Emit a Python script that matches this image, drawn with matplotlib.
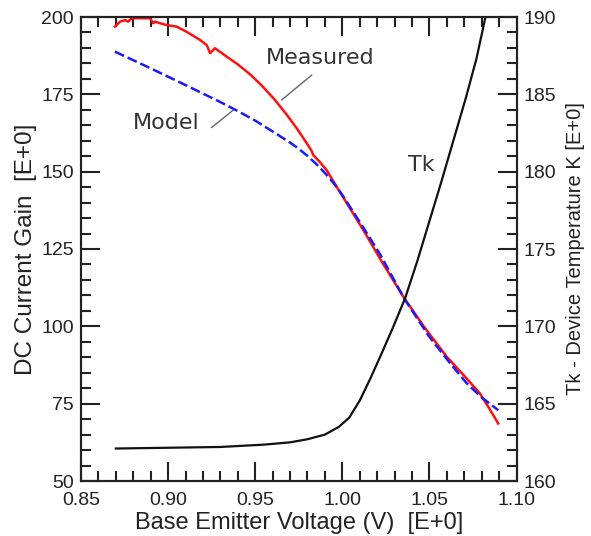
import matplotlib
matplotlib.use("Agg")
import matplotlib.pyplot as plt
from matplotlib.ticker import MultipleLocator, FormatStrFormatter

# Measured DC current gain vs base-emitter voltage
vbe_measured = [0.8695, 0.8724, 0.8753, 0.8770, 0.8791, 0.8858, 0.8896, 0.8915,
                0.8925, 0.8953, 0.8992, 0.9049, 0.9107, 0.9183, 0.9222, 0.9241,
                0.9269, 0.9336, 0.9400, 0.9470, 0.9540, 0.9610, 0.9680, 0.9740,
                0.9790, 0.9824, 0.9833, 0.9870, 0.9910, 0.9968, 1.0040, 1.0121,
                1.0230, 1.0350, 1.0470, 1.0599, 1.0700, 1.0790, 1.0840, 1.0895]
gain_measured = [196.9, 198.5, 199.0, 198.5, 199.6, 199.6, 199.6, 198.0,
                 198.5, 198.0, 197.4, 196.9, 195.2, 192.6, 190.9, 188.3,
                 189.9, 187.2, 184.7, 181.5, 177.7, 173.4, 168.5, 163.9,
                 159.7, 156.7, 155.4, 153.2, 150.5, 145.1, 138.5, 131.1,
                 120.6, 109.6, 99.8, 90.2, 84.0, 78.3, 73.8, 68.6]

# Model DC current gain
vbe_model = [0.8695, 0.8900, 0.9100, 0.9300, 0.9400, 0.9500, 0.9600, 0.9700,
             0.9750, 0.9800, 0.9850, 0.9900, 0.9950, 1.0000, 1.0120, 1.0220,
             1.0355, 1.0500, 1.0620, 1.0714, 1.0800, 1.0895]
gain_model = [188.8, 183.4, 178.0, 172.5, 169.6, 166.5, 163.0, 159.4,
              157.4, 155.1, 152.5, 149.6, 146.3, 142.5, 132.0, 123.0,
              109.0, 96.6, 88.0, 81.6, 77.0, 72.9]

# Device temperature Tk (right axis)
vbe_temp = [0.8700, 0.9300, 0.9550, 0.9700, 0.9800, 0.9900, 0.9980, 1.0040,
            1.0100, 1.0160, 1.0220, 1.0290, 1.0360, 1.0430, 1.0500, 1.0570,
            1.0640, 1.0710, 1.0770, 1.0820]
temp_k = [162.1, 162.2, 162.35, 162.5, 162.7, 163.0, 163.5, 164.1,
          165.2, 166.6, 168.1, 169.9, 171.8, 174.2, 176.8, 179.4,
          182.1, 184.8, 187.3, 189.9]

axis_font = ["Liberation Sans", "DejaVu Sans"]
note_font = ["DejaVu Sans"]
ink = "#222222"

fig = plt.figure(figsize=(5.91, 5.36), dpi=100)
ax = fig.add_axes([81 / 591, 55 / 536, 435.5 / 591, 464 / 536])
ax2 = ax.twinx()

ax.plot(vbe_measured, gain_measured, color="#ff1010", lw=1.8, zorder=2)
ax.plot(vbe_model, gain_model, color="#1a1aff", lw=1.8, ls=(0, (4, 1.6)), zorder=3)
ax2.plot(vbe_temp, temp_k, color="#111111", lw=1.6)

ax.set_xlim(0.85, 1.10)
ax.set_ylim(50, 200)
ax2.set_ylim(160, 190)

ax.xaxis.set_major_locator(MultipleLocator(0.05))
ax.xaxis.set_minor_locator(MultipleLocator(0.01))
ax.xaxis.set_major_formatter(FormatStrFormatter("%.2f"))
ax.yaxis.set_major_locator(MultipleLocator(25))
ax.yaxis.set_minor_locator(MultipleLocator(5))
ax2.yaxis.set_major_locator(MultipleLocator(5))
ax2.yaxis.set_minor_locator(MultipleLocator(1))

for a in (ax, ax2):
    for s in a.spines.values():
        s.set_linewidth(1.5)
        s.set_color(ink)

ax.tick_params(axis="x", which="both", direction="in", top=True, bottom=True,
               color=ink, width=1.5, labelsize=14, labelcolor=ink, pad=8)
ax.tick_params(axis="y", which="both", direction="in", left=True, right=False,
               color=ink, width=1.5, labelsize=14, labelcolor=ink, pad=5)
ax2.tick_params(axis="y", which="both", direction="in", right=True, left=False,
                color=ink, width=1.5, labelsize=14, labelcolor=ink, pad=5)
for a in (ax, ax2):
    a.tick_params(which="major", length=14)
    a.tick_params(which="minor", length=7)

for lab in ax.get_xticklabels() + ax.get_yticklabels() + ax2.get_yticklabels():
    lab.set_family(axis_font)

ax.set_xlabel("Base Emitter Voltage (V)  [E+0]", fontsize=17, family=axis_font,
              color=ink, labelpad=2)
ax.set_ylabel("DC Current Gain  [E+0]", fontsize=17.5, family=axis_font,
              color=ink, labelpad=3)
ax2.set_ylabel("Tk - Device Temperature K [E+0]", fontsize=14.5, family=axis_font,
               color=ink, labelpad=7)

# curve labels with leader lines
ax.text(0.9872, 186.7, "Measured", fontsize=16, family=note_font, color="#333333",
        ha="center", va="center")
ax.plot([0.9652, 0.9824], [173.2, 181.2], color="#666666", lw=1.0)
ax.text(0.8988, 165.6, "Model", fontsize=16, family=note_font, color="#333333",
        ha="center", va="center")
ax.plot([0.9250, 0.9374], [164.3, 169.9], color="#666666", lw=1.0)
ax.text(1.0452, 152.2, "Tk", fontsize=16, family=note_font, color="#333333",
        ha="center", va="center")

fig.savefig("out.png", dpi=100)
